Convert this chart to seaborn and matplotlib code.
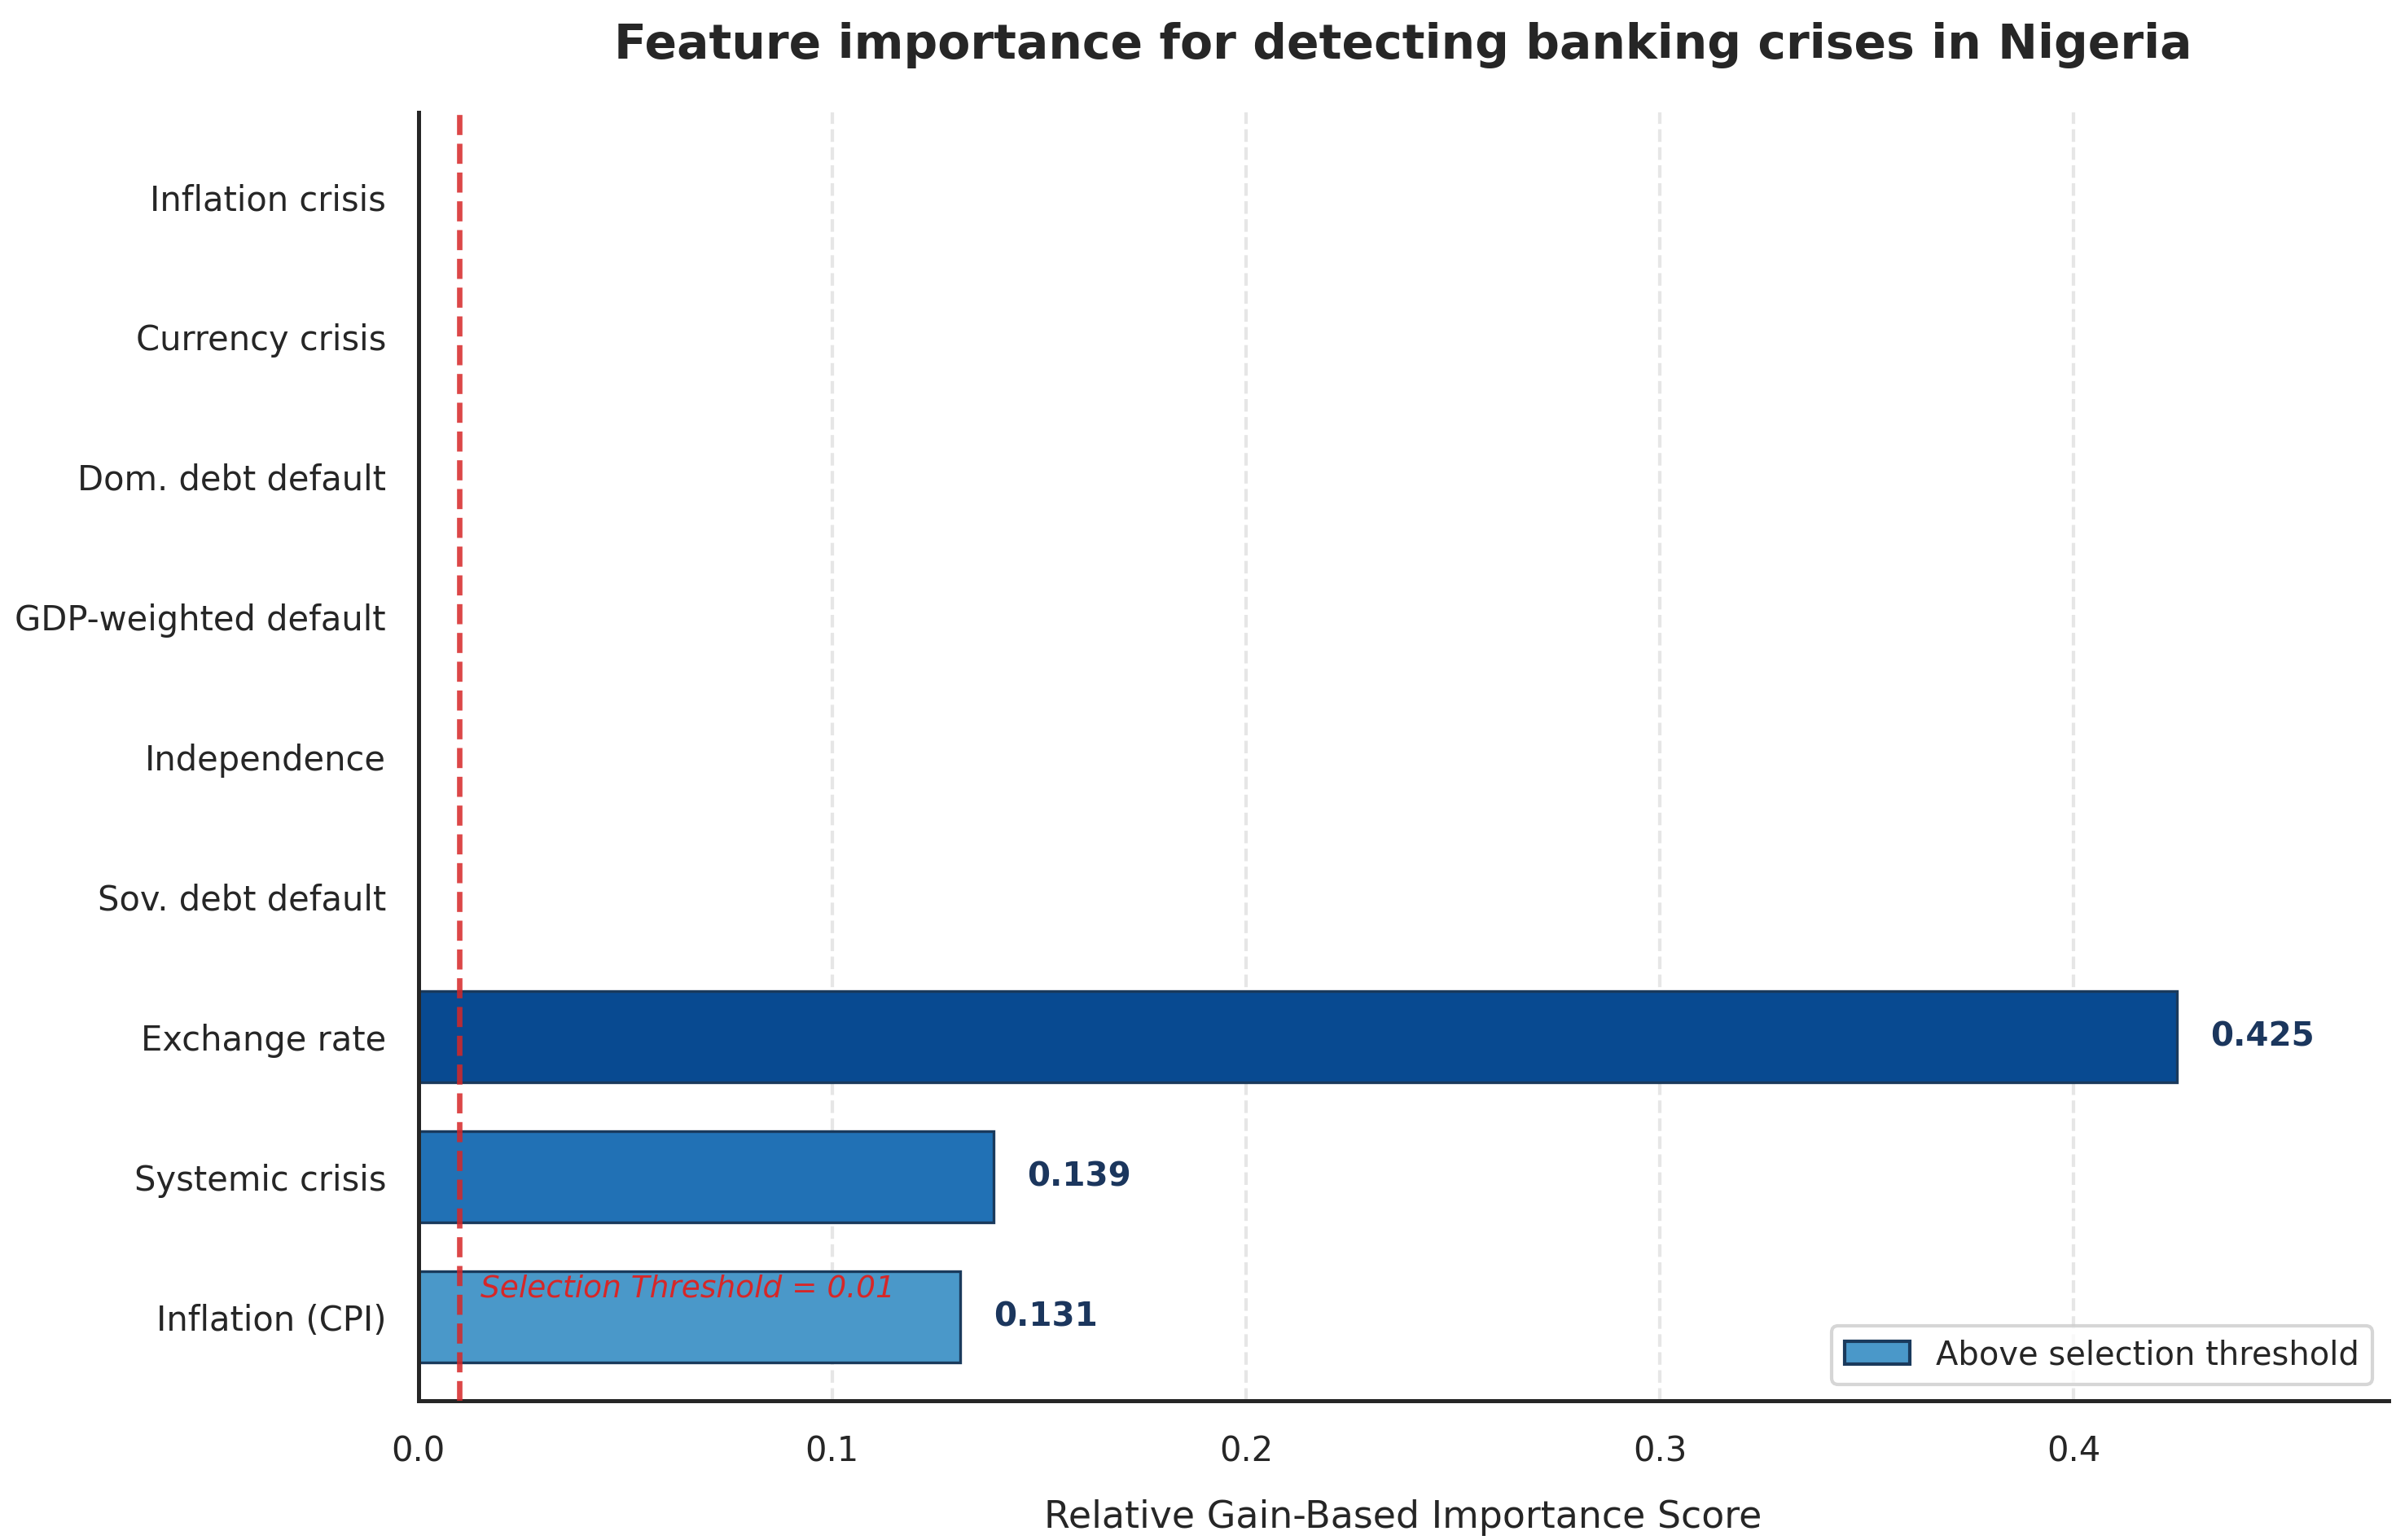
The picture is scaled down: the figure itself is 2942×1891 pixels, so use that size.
import matplotlib
matplotlib.use("Agg")
import matplotlib.pyplot as plt
import seaborn as sns
import pandas as pd
from matplotlib.patches import Patch

# feature importance values (top to bottom as drawn)
features = ["Inflation crisis", "Currency crisis", "Dom. debt default", "GDP-weighted default",
            "Independence", "Sov. debt default", "Exchange rate", "Systemic crisis", "Inflation (CPI)"]
importance = [0.0, 0.0, 0.0, 0.0, 0.0, 0.0, 0.425, 0.139, 0.131]
bar_colors = ["#c6dbef", "#c6dbef", "#c6dbef", "#c6dbef", "#c6dbef", "#c6dbef",
              "#084a91", "#2171b5", "#4a98c9"]
threshold = 0.01

df = pd.DataFrame({"Feature": features, "Importance": importance})

sns.set_style("white")
plt.rcParams['font.family'] = ['DejaVu Sans']

fig = plt.figure(figsize=(2942 / 300, 1891 / 300), dpi=300)
ax = fig.add_axes([0.1746, 0.0903, 0.8222, 0.8365])

sns.barplot(data=df, x="Importance", y="Feature", hue="Feature", palette=bar_colors,
            orient="h", width=0.65, edgecolor="#1a3a5c", linewidth=0.8,
            legend=False, ax=ax, saturation=1)

# value labels for bars above threshold
for i, v in enumerate(importance):
    if v > threshold:
        ax.text(v + 0.008, i, f"{v:.3f}", va="center", ha="left",
                fontsize=9.7, fontweight="bold", color="#1b365d")

ax.axvline(threshold, color="#d62728", linestyle="--", linewidth=1.6, alpha=0.85, zorder=3)
ax.text(threshold + 0.005, len(features) - 1.2, f"Selection Threshold = {threshold}",
        color="#d62728", fontsize=9, style="italic", va="center", ha="left")

ax.set_xlim(0, max(importance) * 1.12)
ax.set_ylim(len(features) - 0.4, -0.6)
ax.xaxis.grid(True, linestyle="--", color="#e6e6e6", linewidth=1.0)
ax.set_axisbelow(True)

ax.set_title("Feature importance for detecting banking crises in Nigeria",
             fontsize=14, fontweight="bold", pad=16)
ax.set_xlabel("Relative Gain-Based Importance Score", fontsize=11, labelpad=9)
ax.set_ylabel("")
ax.tick_params(axis="both", labelsize=10)
ax.tick_params(axis="y", pad=6)
ax.tick_params(axis="x", pad=6.5)

sns.despine(ax=ax)
for side in ["left", "bottom"]:
    ax.spines[side].set_color("#262626")
    ax.spines[side].set_linewidth(1.2)

handle = Patch(facecolor="#4a98c9", edgecolor="#1a3a5c", label="Above selection threshold")
ax.legend(handles=[handle], loc="lower right", fontsize=9.6, frameon=True)

fig.savefig("out.png", dpi=300)
